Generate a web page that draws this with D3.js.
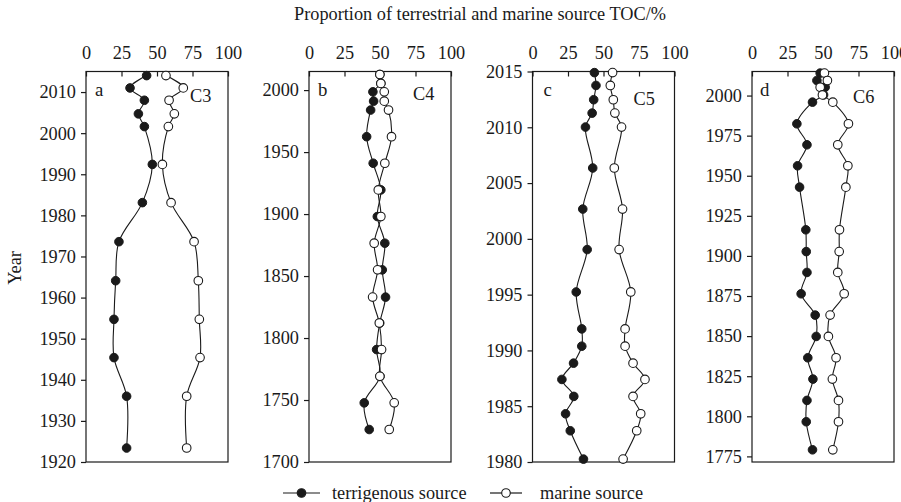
<!DOCTYPE html>
<html><head><meta charset="utf-8">
<script src="https://cdn.jsdelivr.net/npm/d3@7"></script>
<style>
body{margin:0;background:#fff}
svg{display:block}
text{font-family:"Liberation Serif","Times New Roman",serif;fill:#1a1a1a}
</style>
</head><body><svg id="chart" width="901" height="502"></svg>
<script>
// ---- data ----
const xTicks = [0, 25, 50, 75, 100];

const yearsA  = [2014.0, 2011.0, 2008.0, 2004.7, 2001.6, 1992.4, 1983.1, 1973.6, 1964.1, 1954.7, 1945.4, 1936.0, 1923.4];
const terrA   = [42.7, 31.0, 41.1, 36.9, 41.1, 46.7, 39.7, 23.2, 20.9, 19.7, 19.7, 28.6, 28.6];
const marineA = [56.3, 68.5, 58.5, 62.2, 58.0, 53.8, 59.9, 76.1, 79.1, 79.8, 80.3, 70.9, 70.9];
const yTicksA = [1920, 1930, 1940, 1950, 1960, 1970, 1980, 1990, 2000, 2010];

const yearsB  = [2012.6, 2005.4, 1998.6, 1991.1, 1983.9, 1962.4, 1941.0, 1919.5, 1898.0, 1876.5, 1855.0, 1833.0, 1812.1, 1790.7, 1769.1, 1747.7, 1726.2];
const terrB   = [49.9, 50.6, 45.0, 45.5, 43.4, 40.6, 45.2, 50.6, 48.1, 53.4, 51.6, 53.9, 49.8, 47.6, 50.0, 38.9, 42.4];
const marineB = [49.9, 50.6, 53.0, 53.0, 56.0, 58.1, 53.4, 48.8, 50.6, 45.9, 48.3, 44.8, 49.5, 51.1, 49.9, 60.0, 56.5];
const yTicksB = [1700, 1750, 1800, 1850, 1900, 1950, 2000];

const yearsC  = [2014.9, 2013.75, 2012.47, 2011.27, 2010.02, 2006.35, 2002.67, 1999.04, 1995.24, 1991.93, 1990.38, 1988.86, 1987.4, 1985.88, 1984.32, 1982.8, 1980.26];
const terrC   = [43.6, 44.7, 43.1, 42.0, 37.3, 42.4, 35.4, 38.5, 30.8, 34.7, 34.7, 28.9, 20.7, 29.1, 23.3, 26.6, 35.9];
const marineC = [56.4, 54.8, 56.9, 58.0, 62.7, 57.6, 63.4, 61.0, 69.2, 65.2, 65.2, 70.8, 79.2, 70.8, 76.2, 73.4, 63.8];
const yTicksC = [1980, 1985, 1990, 1995, 2000, 2005, 2010, 2015];

const yearsD  = [2014.0, 2009.4, 2005.2, 2000.4, 1995.9, 1982.4, 1969.3, 1956.2, 1942.9, 1916.3, 1902.7, 1889.7, 1876.4, 1863.1, 1849.8, 1836.5, 1823.2, 1809.9, 1796.6, 1779.1];
const terrD   = [48.0, 45.7, 51.5, 50.4, 42.6, 31.6, 38.7, 32.1, 33.5, 37.9, 38.2, 38.7, 34.6, 44.5, 45.2, 39.3, 42.9, 38.7, 38.2, 42.6];
const marineD = [51.0, 53.1, 48.0, 49.6, 56.9, 67.9, 60.4, 67.5, 66.1, 61.6, 61.4, 60.4, 64.9, 55.0, 53.8, 59.2, 56.6, 60.9, 60.9, 56.9];
const yTicksD = [1775, 1800, 1825, 1850, 1875, 1900, 1925, 1950, 1975, 2000];

const panelLetters = ["a", "b", "c", "d"];
const coreNames = ["C3", "C4", "C5", "C6"];
const yDomains = [[1920, 2015], [1700, 2015], [1980, 2015], [1771.5, 2015]];
const seriesNames = ["terrigenous source", "marine source"];
const titleText = "Proportion of terrestrial and marine source TOC/%";
const yTitle = "Year";

// ---- layout ----
const svg = d3.select("#chart");
const ink = "#1a1a1a";
const FS = 18.3;
const plotTop = 71.5, plotBottom = 462, pw = 142;
const lefts = [86, 309, 532.5, 752];
const letterDx = [9, 9, 11, 8];
const coreDx = [104, 104, 101, 101];
const coreDy = [30.5, 28.5, 33.5, 31.5];
const R = 4.3;

const panels = [
  {years: yearsA, terr: terrA, mar: marineA, ticks: yTicksA},
  {years: yearsB, terr: terrB, mar: marineB, ticks: yTicksB},
  {years: yearsC, terr: terrC, mar: marineC, ticks: yTicksC},
  {years: yearsD, terr: terrD, mar: marineD, ticks: yTicksD}
];

panels.forEach((p, i) => {
  const L = lefts[i];
  const x = d3.scaleLinear().domain([0, 100]).range([L, L + pw]);
  const y = d3.scaleLinear().domain(yDomains[i]).range([plotBottom, plotTop]);
  const g = svg.append("g");

  g.append("rect").attr("x", L).attr("y", plotTop).attr("width", pw).attr("height", plotBottom - plotTop)
    .attr("fill", "none").attr("stroke", ink).attr("stroke-width", 1.2);

  const ax = g.append("g").attr("transform", `translate(0,${plotTop})`)
    .call(d3.axisTop(x).tickValues(xTicks).tickSizeInner(-5).tickSizeOuter(0).tickPadding(13));
  const ay = g.append("g").attr("transform", `translate(${L},0)`)
    .call(d3.axisLeft(y).tickValues(p.ticks).tickFormat(d3.format("d")).tickSizeInner(5).tickSizeOuter(0).tickPadding(5));
  [ax, ay].forEach(a => {
    a.select(".domain").remove();
    a.selectAll("line").attr("stroke", ink).attr("stroke-width", 1.2);
    a.selectAll("text").attr("font-size", FS).attr("font-family", '"Liberation Serif","Times New Roman",serif').attr("fill", ink);
  });

  const terrPts = p.years.map((yr, k) => [p.terr[k], yr]);
  const marPts = p.years.map((yr, k) => [p.mar[k], yr]);
  const line = d3.line().x(d => x(d[0])).y(d => y(d[1])).curve(d3.curveCatmullRom.alpha(0.5));

  g.append("path").attr("d", line(terrPts)).attr("fill", "none").attr("stroke", ink).attr("stroke-width", 1.1);
  g.append("path").attr("d", line(marPts)).attr("fill", "none").attr("stroke", ink).attr("stroke-width", 1.1);
  g.selectAll(".t").data(terrPts).enter().append("circle")
    .attr("cx", d => x(d[0])).attr("cy", d => y(d[1])).attr("r", R).attr("fill", ink).attr("stroke", ink).attr("stroke-width", 1);
  g.selectAll(".m").data(marPts).enter().append("circle")
    .attr("cx", d => x(d[0])).attr("cy", d => y(d[1])).attr("r", R).attr("fill", "#fff").attr("stroke", ink).attr("stroke-width", 1.1);

  g.append("text").attr("x", L + letterDx[i]).attr("y", plotTop + 24).attr("font-size", FS + 0.5).text(panelLetters[i]);
  g.append("text").attr("x", L + coreDx[i]).attr("y", plotTop + coreDy[i]).attr("font-size", FS).text(coreNames[i]);
});

svg.append("text").attr("x", 480).attr("y", 20).attr("text-anchor", "middle").attr("font-size", FS).text(titleText);
svg.append("text").attr("transform", "translate(21,268) rotate(-90)").attr("text-anchor", "middle").attr("font-size", FS).text(yTitle);

const lg = svg.append("g");
const legY = 493;
const legItems = [
  {x0: 283, x1: 320, tx: 332, fill: ink},
  {x0: 490, x1: 522, tx: 540, fill: "#fff"}
];
legItems.forEach((it, k) => {
  lg.append("line").attr("x1", it.x0).attr("x2", it.x1).attr("y1", legY).attr("y2", legY).attr("stroke", ink).attr("stroke-width", 1.2);
  lg.append("circle").attr("cx", (it.x0 + it.x1) / 2).attr("cy", legY).attr("r", R).attr("fill", it.fill).attr("stroke", ink).attr("stroke-width", 1.1);
  lg.append("text").attr("x", it.tx).attr("y", legY + 6).attr("font-size", FS).text(seriesNames[k]);
});
</script>
</body></html>
